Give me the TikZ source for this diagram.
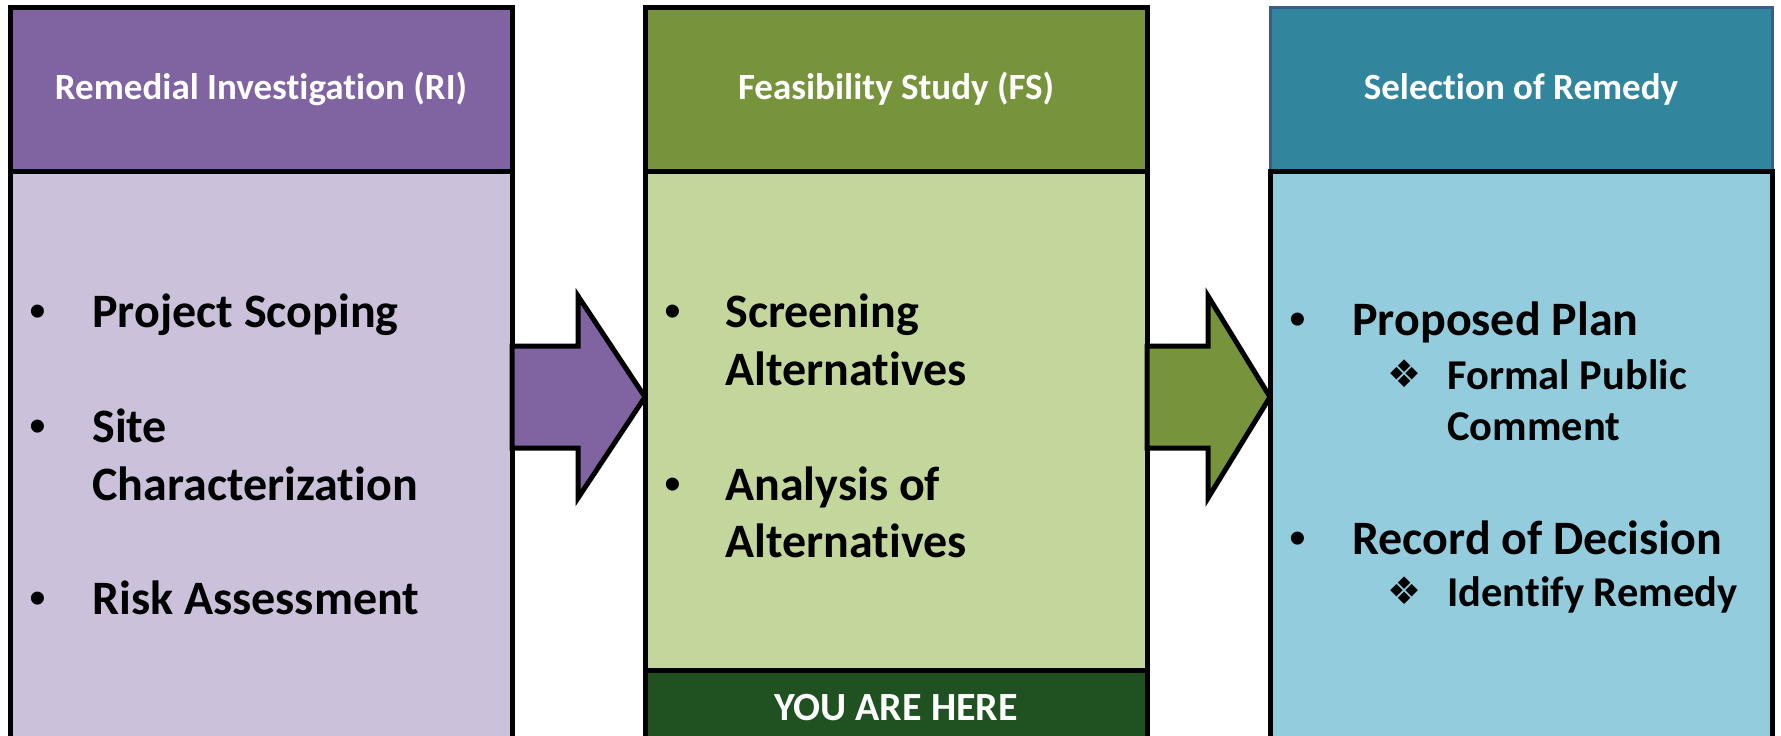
\documentclass[tikz,border=0pt]{standalone}
\usepackage{fontspec}
\setmainfont{Carlito}[RawFeature={-liga;-clig;-calt;-dlig}]
\newfontfamily\bulletfont{Liberation Sans}
\newfontfamily\symfont{DejaVu Sans}
\usetikzlibrary{calc}
\definecolor{ripurple}{HTML}{8064A2}
\definecolor{rilight}{HTML}{CCC1DA}
\definecolor{fsgreen}{HTML}{77933C}
\definecolor{fslight}{HTML}{C3D69B}
\definecolor{srteal}{HTML}{31859C}
\definecolor{srlight}{HTML}{93CDDD}
\definecolor{yahgreen}{HTML}{1F5220}
\definecolor{srborder}{HTML}{385D8A}
\begin{document}
\begin{tikzpicture}[x=0.5pt,y=-0.5pt,
  box/.style={draw=black, line width=2.5pt, rectangle, minimum width=251pt,
    inner sep=0pt, outer sep=0pt, anchor=north west},
  hdr/.style={box, minimum height=82pt, text=white,
    font=\fontsize{18.5}{22}\selectfont\bfseries},
  bodybox/.style={box, minimum height=287pt},
  item/.style={anchor=base west, inner sep=0pt,
    font=\fontsize{24}{29}\selectfont\bfseries},
  subitem/.style={anchor=base west, inner sep=0pt,
    font=\fontsize{21.25}{26}\selectfont\bfseries},
  dot/.style={anchor=base, inner sep=0pt,
    font=\bulletfont\fontsize{24}{29}\selectfont},
  diam/.style={anchor=center, inner sep=0pt,
    font=\symfont\fontsize{19}{22}\selectfont},
  blockarrow/.style={draw=black, line width=2.5pt, line join=miter, miter limit=10}]
\useasboundingbox (0,0) rectangle (1781,735);
\clip (0,0) rectangle (1781,735);

% Remedial Investigation
\node[hdr, fill=ripurple] (rih) at (10,7) {Remedial Investigation (RI)};
\node[bodybox, fill=rilight] (rib) at (10,171) {};
\node[dot] (rid1) at (38,327) {•};
\node[item] (ri1) at (92,327) {Project Scoping};
\node[dot] (rid2) at (38,442) {•};
\node[item] (ri2a) at (92,442) {Site};
\node[item] (ri2b) at (92,500) {Characterization};
\node[dot] (rid3) at (38,614) {•};
\node[item] (ri3) at (92,614) {Risk Assessment};

% Feasibility Study
\node[hdr, fill=fsgreen] (fsh) at (645,7) {Feasibility Study (FS)};
\node[box, minimum height=249.5pt, fill=fslight] (fsb) at (645,171) {};
\node[box, minimum height=37.5pt, fill=yahgreen, text=white,
  font=\fontsize{20}{24}\selectfont\bfseries] (yah) at (645,670) {YOU ARE HERE};
\node[dot] (fsd1) at (673,327) {•};
\node[item] (fs1a) at (725,327) {Screening};
\node[item] (fs1b) at (725,385) {Alternatives};
\node[dot] (fsd2) at (673,500) {•};
\node[item] (fs2a) at (725,500) {Analysis of};
\node[item] (fs2b) at (725,557) {Alternatives};

% Selection of Remedy
\node[hdr, fill=srteal, draw=srborder, line width=1.5pt] (srh) at (1270,7) {Selection of Remedy};
\node[bodybox, fill=srlight] (srb) at (1270,171) {};
\node[dot] (srd1) at (1298,335) {•};
\node[item] (sr1) at (1352,335) {Proposed Plan};
\node[diam] (srs1) at (1405,374) {❖};
\node[subitem] (sr1a) at (1447,389) {Formal Public};
\node[subitem] (sr1b) at (1447,440) {Comment};
\node[dot] (srd2) at (1298,554) {•};
\node[item] (sr2) at (1352,554) {Record of Decision};
\node[diam] (srs2) at (1405,591) {❖};
\node[subitem] (sr2a) at (1447,606) {Identify Remedy};

% Block arrows
\coordinate (a1) at (rib.east |- 0,397);
\coordinate (t1) at (fsb.west |- 0,397);
\draw[blockarrow, fill=ripurple]
  ($(a1)+(0,-51)$) -- ($(t1)+(-67,-51)$) -- ($(t1)+(-67,-101)$) -- (t1)
  -- ($(t1)+(-67,101)$) -- ($(t1)+(-67,51)$) -- ($(a1)+(0,51)$) -- cycle;
\coordinate (a2) at (fsb.east |- 0,397);
\coordinate (t2) at (srb.west |- 0,397);
\draw[blockarrow, fill=fsgreen]
  ($(a2)+(0,-51)$) -- ($(t2)+(-62,-51)$) -- ($(t2)+(-62,-101)$) -- (t2)
  -- ($(t2)+(-62,101)$) -- ($(t2)+(-62,51)$) -- ($(a2)+(0,51)$) -- cycle;
\end{tikzpicture}
\end{document}
